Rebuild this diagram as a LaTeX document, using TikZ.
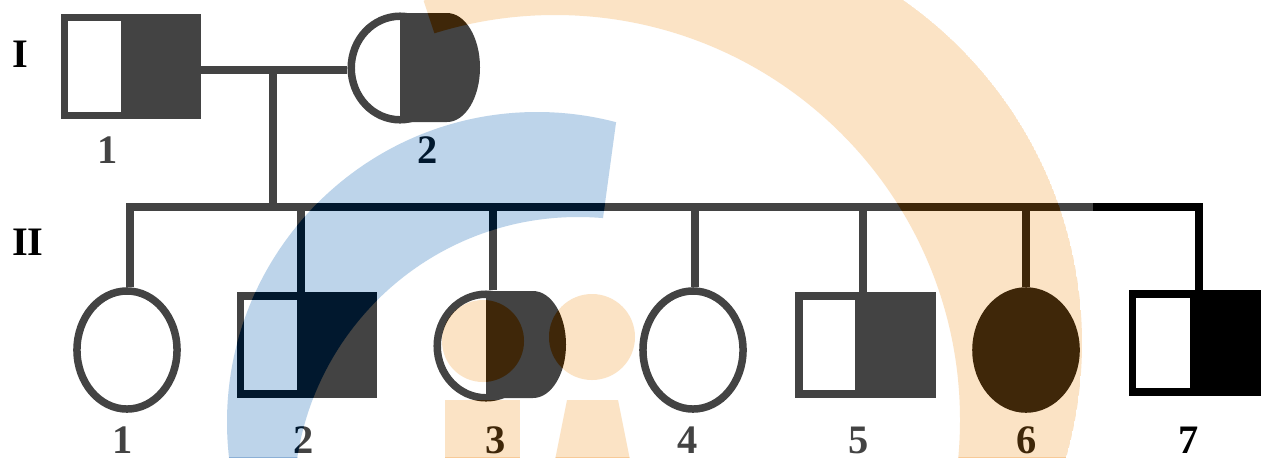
\documentclass[tikz,border=0pt]{standalone}
\usepackage{fontspec}
\setmainfont{Liberation Serif}
\usetikzlibrary{shapes.geometric}

\definecolor{pedgray}{HTML}{434343}
\definecolor{wmorange}{HTML}{FBE3C5}
\definecolor{wmblue}{HTML}{BDD4EA}

\newcommand{\drawlogo}{%
  \begin{scope}
    \clip (0,0) -- (620,0) -- (618,108) -- (603,218) -- (600,470) -- (0,470) -- cycle;
    \fill[wmblue, even odd rule] (537,422) circle[radius=310] (578,501) circle[radius=284];
  \end{scope}
  \begin{scope}
    \clip (420,-10) -- (1300,-10) -- (1300,470) -- (440,470) -- (440,50) -- cycle;
    \clip (664,343) circle[radius=418];
    \fill[wmorange, even odd rule] (664,343) circle[radius=418] (555,420) circle[radius=405];
  \end{scope}
  \fill[wmorange] (483,341) circle[radius=41] (592,337) circle[radius=43];
  \fill[wmorange] (445,400) rectangle (520,470);
  \fill[wmorange] (567,400) -- (618,400) -- (632,470) -- (553,470) -- cycle;
}

\begin{document}
\begin{tikzpicture}[
    x=0.01cm, y=-0.01cm,
    pedline/.style={draw=pedgray, line width=0.075cm},
    male/.style={pedline, rectangle, minimum width=1.325cm, minimum height=0.975cm, inner sep=0pt},
    female/.style={pedline, ellipse, minimum width=1.0cm, minimum height=1.18cm, inner sep=0pt},
    carrier/.style={pedline, ellipse, minimum width=0.975cm, minimum height=1.035cm, inner sep=0pt},
    num/.style={font=\fontsize{11.5}{12}\selectfont\bfseries, text=pedgray, inner sep=0pt},
    gen/.style={font=\fontsize{11.5}{12}\selectfont\bfseries, inner sep=0pt}
]
\useasboundingbox (0,0) rectangle (1261,457);
\fill[white] (0,0) rectangle (1261,457);
\clip (0,0) rectangle (1261,457);

\node[gen] (genI) at (20,54) {I};
\node[gen] (genII) at (28,242) {II};

\node[male] (I1) at (131,66.5) {};
\fill[pedgray] (121,14) rectangle (201,119);
\node[carrier] (I2) at (400,68) {};
\fill[pedgray] (400,13) -- (447,13) arc[start angle=-90, end angle=90, x radius=33, y radius=54.5] -- (400,122) -- cycle;

\node[female] (II1) at (127,350) {};
\node[male] (II2) at (307,345) {};
\fill[pedgray] (297,292) rectangle (377,398);
\node[carrier] (II3) at (486,346) {};
\fill[pedgray] (486,291) -- (533,291) arc[start angle=-90, end angle=90, x radius=33, y radius=53.5] -- (486,398) -- cycle;
\node[female] (II4) at (693,350) {};
\node[male] (II5) at (865.5,345) {};
\fill[pedgray] (855,292) rectangle (935,398);
\node[female, fill=pedgray] (II6) at (1026,350) {};
\node[male, draw=black] (II7) at (1199,343) {};
\fill[black] (1190,290) rectangle (1269,396);

\coordinate (mar) at (273,70);
\coordinate (sib) at (273,207);
\coordinate (split) at (1093,207);

\draw[pedline] (I1.east |- mar) -- (I2.west |- mar);
\draw[pedline] (mar) -- (sib);
\draw[pedline] ([xshift=0.03cm]II1.north) |- (split);
\foreach \k/\dx in {II2/-0.06,II3/0.07,II4/0.02,II5/-0.025,II6/0}
  \draw[pedline] ([xshift=\dx cm]\k.north) -- ([xshift=\dx cm]sib -| \k.north);
\draw[pedline, draw=black] (split) -| (II7.north);

\node[num] (nI1) at (108,150) {1};
\node[num] (nI2) at (428,150) {2};
\node[num] (nII1) at (123,440) {1};
\node[num] (nII2) at (304,440) {2};
\node[num] (nII3) at (496,440) {3};
\node[num] (nII4) at (688,440) {4};
\node[num] (nII5) at (859,440) {5};
\node[num] (nII6) at (1027,440) {6};
\node[num, text=black] (nII7) at (1189,440) {7};

\begin{scope}[blend mode=color burn]
  \drawlogo
\end{scope}
\begin{scope}[blend mode=multiply]
  \drawlogo
\end{scope}
\end{tikzpicture}
\end{document}
